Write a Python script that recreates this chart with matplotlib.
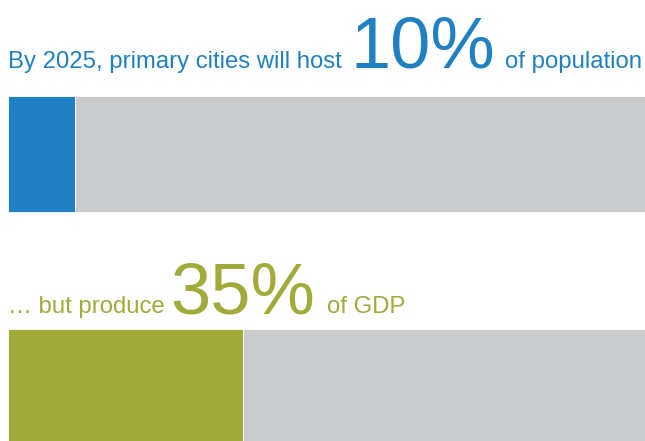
import matplotlib.pyplot as plt
from matplotlib.transforms import IdentityTransform

plt.rcParams['font.family'] = ['Liberation Sans', 'DejaVu Sans']

shares = [10, 35]
before = ['By 2025, primary cities will host', '\u2026 but produce']
big = ['10%', '35%']
after = ['of population', 'of GDP']
colors = ['#1f80c3', '#a0ab3a']
rest = '#cacbcd'

W, H = 645, 441
fig = plt.figure(figsize=(W / 100, H / 100), dpi=100)
ax = fig.add_axes([0, 0, 1, 1])
px = 6.7  # pixels per percent
ax.set_xlim(-8 / px, (W - 8) / px)
ax.set_ylim(H, 0)
ax.axis('off')

bar_y = [154, 387]
for i in range(2):
    ax.barh(bar_y[i], shares[i], height=116, left=0, color=colors[i],
            edgecolor='white', linewidth=0.6)
    ax.barh(bar_y[i], 100 - shares[i], height=116, left=shares[i], color=rest,
            edgecolor='white', linewidth=0.6)

# text lines (pixel positions, y from top)
baselines = [68, 313]
xs = [(8, 351, 505), (8, 170, 327)]
for i in range(2):
    yb = H - baselines[i]
    for x, s, size in zip(xs[i], [before[i], big[i], after[i]], [17.2, 52, 17.2]):
        ax.text(x, yb, s, transform=IdentityTransform(), fontsize=size,
                color=colors[i], va='baseline', ha='left')

fig.savefig('out.png', dpi=100)
